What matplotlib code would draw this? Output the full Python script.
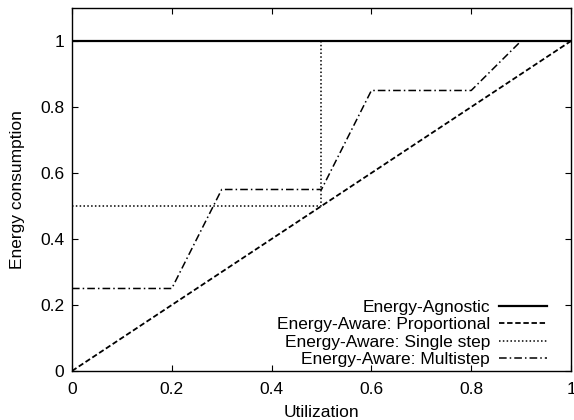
import matplotlib as mpl
mpl.use("Agg")
import matplotlib.pyplot as plt

mpl.rcParams.update({
    'font.family': 'sans-serif',
    'font.sans-serif': ['Liberation Sans', 'DejaVu Sans'],
    'font.size': 12.5,
    'xtick.direction': 'in',
    'ytick.direction': 'in',
    'xtick.top': True,
    'ytick.right': True,
    'axes.linewidth': 1.0,
})

# dati
agnostic_x = [0, 1]
agnostic_y = [1, 1]
prop_x = [0, 1]
prop_y = [0, 1]
single_x = [0, 0.5, 0.5, 1]
single_y = [0.5, 0.5, 1, 1]
multi_x = [0, 0.2, 0.3, 0.5, 0.6, 0.8, 0.9, 1]
multi_y = [0.25, 0.25, 0.55, 0.55, 0.85, 0.85, 1, 1]

xticks = [0, 0.2, 0.4, 0.6, 0.8, 1]
yticks = [0, 0.2, 0.4, 0.6, 0.8, 1]

fig, ax = plt.subplots(figsize=(5.74, 4.2), dpi=100)

ax.plot(agnostic_x, agnostic_y, color="black", linestyle="-", linewidth=1.6,
        label="Energy-Agnostic")
ax.plot(prop_x, prop_y, color="black", linestyle=(0, (3, 1.5)), linewidth=1.3,
        label="Energy-Aware: Proportional")
ax.plot(single_x, single_y, color="black", linestyle=(0, (1, 1.5)), linewidth=1.1,
        label="Energy-Aware: Single step")
ax.plot(multi_x, multi_y, color="black", linestyle=(0, (5, 2, 1, 2)), linewidth=1.1,
        label="Energy-Aware: Multistep")

ax.set_xlim(0, 1)
ax.set_ylim(0, 1.1)
ax.set_xticks(xticks)
ax.set_xticklabels([f"{t:g}" for t in xticks])
ax.set_yticks(yticks)
ax.set_yticklabels([f"{t:g}" for t in yticks])
ax.tick_params(length=4, width=0.8)
ax.tick_params(axis="x", pad=8)
ax.tick_params(axis="y", pad=5.5)

ax.set_xlabel("Utilization", labelpad=6)
ax.set_ylabel("Energy consumption", labelpad=11)

ax.legend(loc="lower right", bbox_to_anchor=(0.965, -0.008), frameon=False,
          markerfirst=False, handlelength=2.75, handletextpad=0.5,
          labelspacing=0.12, borderaxespad=0.0)

fig.subplots_adjust(left=0.1254, right=0.9948, bottom=0.1167, top=0.981)
fig.savefig("out.png", dpi=100)
